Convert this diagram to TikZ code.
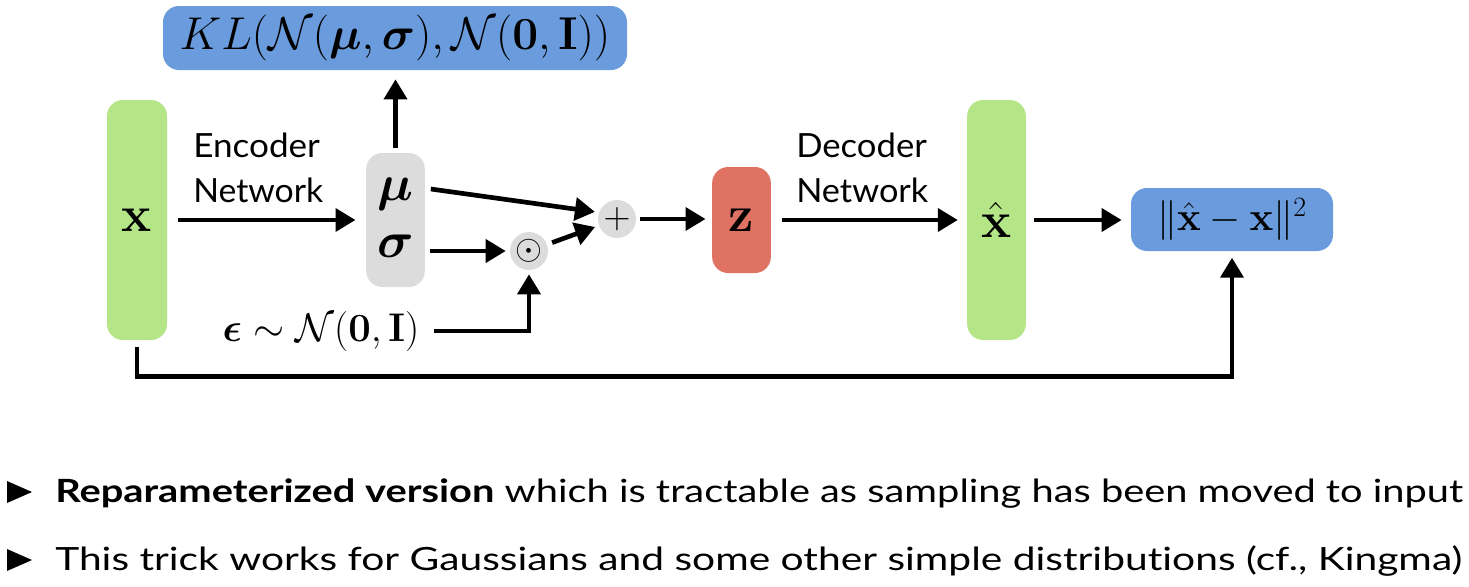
\RequirePackage{fix-cm}
\documentclass[tikz,border=0pt]{standalone}
\usepackage{amsmath,bm}
\usepackage{graphicx}
\usepackage[no-math]{fontspec}
\newfontfamily\lato{Lato}[Ligatures={NoCommon}]
\usetikzlibrary{arrows.meta,calc}
\definecolor{vgreen}{HTML}{B4E688}
\definecolor{vblue}{HTML}{6A9BDC}
\definecolor{vred}{HTML}{E07264}
\definecolor{vgray}{HTML}{DCDCDC}
\begin{document}
\begin{tikzpicture}[x=0.75pt,y=-0.75pt,
  box/.style={rounded corners=12pt, inner sep=0pt, outer sep=0pt},
  arr/.style={line width=3.5pt, -{Triangle[length=15pt,width=17pt]}},
  lab/.style={font=\fontsize{38}{40}\selectfont},
  netlab/.style={font=\lato\fontsize{25}{28}\selectfont, inner sep=0pt, anchor=base west},
  bul/.style={font=\lato\fontsize{24}{26}\selectfont, inner sep=0pt, anchor=base west},
  circ/.style={circle, fill=vgray, minimum size=28.5pt, inner sep=0pt}
]
\useasboundingbox (0,0) rectangle (1469,586);
% boxes
\node[box, fill=vblue, minimum width=348pt, minimum height=48pt] (kl) at (395,38)
  {\fontsize{34.5}{36}\selectfont $KL(\mathcal{N}(\bm{\mu},\bm{\sigma}),\mathcal{N}(\mathbf{0},\mathbf{I}))$};
\node[box, lab, fill=vgreen, minimum width=45pt, minimum height=180pt] (xb) at (137,220) {$\mathbf{x}$};
\node[box, fill=vgray, minimum width=44pt, minimum height=100.5pt] (ms) at (395.5,220) {};
\node[lab, inner sep=0pt] (mu) at (395.5,194) {$\bm{\mu}$};
\node[lab, inner sep=0pt] (sig) at (395.5,246) {$\bm{\sigma}$};
\node[circ] (od) at (529,251) {\fontsize{26}{28}\selectfont$\odot$};
\node[circ] (pl) at (617,219) {\fontsize{28}{30}\selectfont$+$};
\node[box, lab, fill=vred, minimum width=44pt, minimum height=79.5pt] (z) at (741.5,220) {$\mathbf{z}$};
\node[box, lab, fill=vgreen, minimum width=44pt, minimum height=180pt] (xh) at (996.5,220) {$\hat{\mathbf{x}}$};
\node[box, fill=vblue, minimum width=151.5pt, minimum height=47.25pt] (nm) at (1232,219.5)
  {\fontsize{30}{32}\selectfont $\|\hat{\mathbf{x}}-\mathbf{x}\|^2$};
\node[inner sep=0pt, font=\fontsize{30}{32}\selectfont] (eps) at (321,331)
  {$\bm{\epsilon}\sim\mathcal{N}(\mathbf{0},\mathbf{I})$};
% network labels
\node[netlab] (enc1) at (193,157) {\resizebox{95pt}{\height}{Encoder}};
\node[netlab] (enc2) at (193,202) {\resizebox{97.5pt}{\height}{Network}};
\node[netlab] (dec1) at (796,157) {\resizebox{98pt}{\height}{Decoder}};
\node[netlab] (dec2) at (796,202) {\resizebox{99pt}{\height}{Network}};
% arrows
\draw[arr] ([xshift=8pt]xb.east) -- ([xshift=-8pt]ms.west);
\draw[arr] ([yshift=4pt]ms.north) -- ([yshift=-7pt]kl.south -| ms.north);
\draw[arr, shorten >=3pt] ($(ms.east|-mu)+(6,-5)$) -- (pl.160);
\draw[arr, shorten >=3pt] ($(ms.east|-od)+(5,0)$) -- (od.west);
\draw[arr, shorten <=4pt, shorten >=3pt] (od) -- (pl);
\draw[arr, shorten <=11pt, shorten >=3pt] (eps.east) -| (od);
\draw[arr, shorten <=3pt, shorten >=5pt] (pl.east) -- (pl -| z.west);
\draw[arr] ([xshift=8pt]z.east) -- ([xshift=-7pt]xh.west);
\draw[arr] ([xshift=6pt]xh.east) -- ([xshift=-7pt]nm.west |- xh);
\draw[arr, shorten >=5pt] ([yshift=-5pt]xb.south) -- ++(0,30) -| (nm.south);
% bullets
\fill (7,481) -- (32,492) -- (7,503) -- cycle;
\fill (7,549) -- (32,560) -- (7,571) -- cycle;
\node[bul] (b1) at (55,502) {\resizebox{1056pt}{\height}{\textbf{Reparameterized version} which is tractable as sampling has been moved to input}};
\node[bul] (b2) at (55,570) {\resizebox{1055pt}{\height}{This trick works for Gaussians and some other simple distributions (cf., Kingma)}};
\end{tikzpicture}
\end{document}
